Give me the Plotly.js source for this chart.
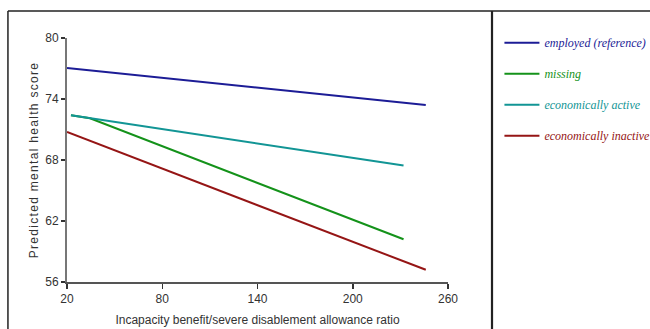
<!DOCTYPE html>
<html>
<head>
<meta charset="utf-8">
<script src="https://cdn.plot.ly/plotly-3.0.1.min.js"></script>
<style>html,body{margin:0;padding:0;background:#fff;}#chart{width:650px;height:329px;}
.ytitle{letter-spacing:1.3px;}</style>
</head>
<body>
<div id="chart"></div>
<script>
// Data
const seriesNames = ["employed (reference)", "missing", "economically active", "economically inactive"];
const seriesColors = ["#1c1c96", "#14921a", "#129595", "#951515"];
const employedX = [20, 246];
const employedY = [77.05, 73.4];
const missingX = [22.5, 34.5, 232];
const missingY = [72.4, 72.1, 60.2];
const activeX = [22.5, 232];
const activeY = [72.4, 67.45];
const inactiveX = [20, 246];
const inactiveY = [70.75, 57.2];
const xTicks = [20, 80, 140, 200, 260];
const yTicks = [56, 62, 68, 74, 80];

const xs = [employedX, missingX, activeX, inactiveX];
const ys = [employedY, missingY, activeY, inactiveY];
const order = [0, 1, 2, 3];
const traces = order.map(i => ({
  x: xs[i], y: ys[i], type: 'scatter', mode: 'lines',
  name: '<span style="color:' + seriesColors[i] + '">' + seriesNames[i] + '</span>',
  legendgroup: 'g' + i, legendrank: i + 1,
  line: {color: seriesColors[i], width: 2},
  hoverinfo: 'skip'
}));
// draw active on top of missing (shares its start)
const plotTraces = [traces[0], traces[1], traces[3], traces[2]];

const axisFont = {family: 'Liberation Sans, Arial, sans-serif', size: 12, color: '#333'};
const layout = {
  width: 650, height: 329,
  margin: {l: 67, r: 202, t: 38, b: 47, autoexpand: false},
  paper_bgcolor: '#fff', plot_bgcolor: '#fff',
  showlegend: true,
  legend: {
    x: 1.135, y: 1.04, xanchor: 'left', yanchor: 'top',
    font: {family: 'Liberation Serif, serif', size: 12, style: 'italic'},
    tracegroupgap: 12, itemwidth: 35, bgcolor: 'rgba(0,0,0,0)'
  },
  xaxis: {
    range: [20, 260], tickvals: xTicks, ticktext: xTicks.map(String),
    showline: true, linecolor: '#555', linewidth: 1.5,
    ticks: 'outside', ticklen: 5, tickcolor: '#333', tickwidth: 1.5,
    showgrid: false, zeroline: false, tickfont: axisFont,
    title: {text: 'Incapacity benefit/severe disablement allowance ratio', font: axisFont, standoff: 10}
  },
  yaxis: {
    range: [56, 80], tickvals: yTicks, ticktext: yTicks.map(String),
    showline: true, linecolor: '#777', linewidth: 2,
    ticks: 'outside', ticklen: 4, tickcolor: '#333', tickwidth: 1.5,
    showgrid: false, zeroline: false, tickfont: axisFont,
    title: {text: 'Predicted mental health score', font: axisFont, standoff: 4}
  },
  shapes: [
    {type: 'line', xref: 'paper', yref: 'paper', x0: -0.155, x1: 1.6, y0: 1.1107, y1: 1.1107, line: {color: '#222', width: 1.5}},
    {type: 'line', xref: 'paper', yref: 'paper', x0: -0.155, x1: -0.155, y0: 1.1107, y1: -0.3, line: {color: '#222', width: 1.5}},
    {type: 'line', xref: 'paper', yref: 'paper', x0: 1.1155, x1: 1.1155, y0: 1.1107, y1: -0.3, line: {color: '#222', width: 2.2}}
  ]
};
Plotly.newPlot('chart', plotTraces, layout, {displayModeBar: false, staticPlot: true});
</script>
</body>
</html>
